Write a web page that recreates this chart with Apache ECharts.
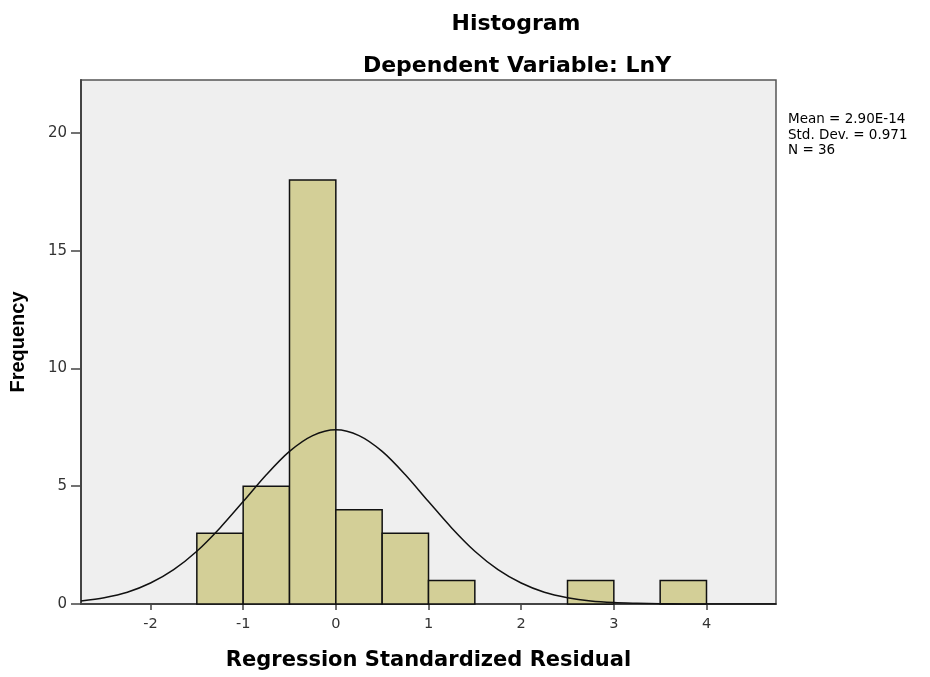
<!DOCTYPE html>
<html>
<head>
<meta charset="utf-8">
<script src="https://cdn.jsdelivr.net/npm/echarts@6/dist/echarts.min.js"></script>
<style>html,body{margin:0;padding:0;background:#fff;}#c{width:930px;height:677px;}</style>
</head>
<body>
<div id="c"></div>
<script>
// Histogram bins (Regression Standardized Residual)
const binStart = [-1.5, -1.0, -0.5, 0.0, 0.5, 1.0, 2.5, 3.5];
const binEnd   = [-1.0, -0.5, 0.0, 0.5, 1.0, 1.5, 3.0, 4.0];
const counts   = [3, 5, 18, 4, 3, 1, 1, 1];

// Normal curve
const curveX = [-2.75,-2.5,-2.25,-2.0,-1.75,-1.5,-1.25,-1.0,-0.75,-0.5,-0.25,0.0,0.25,0.5,0.75,1.0,1.25,1.5,1.75,2.0,2.25,2.5,2.75,3.0,3.25,3.5,3.75,4.0,4.25,4.5,4.75];
const curveY = [0.13,0.27,0.50,0.89,1.46,2.24,3.23,4.35,5.49,6.48,7.15,7.40,7.15,6.48,5.49,4.35,3.23,2.24,1.46,0.89,0.50,0.27,0.13,0.06,0.03,0.01,0.004,0.002,0.0005,0.0001,0.0];

const xTicks = [-2, -1, 0, 1, 2, 3, 4];
const yTicks = [0, 5, 10, 15, 20];

const statsLines = ['Mean = 2.90E-14', 'Std. Dev. = 0.971', 'N = 36'];

const chart = echarts.init(document.getElementById('c'), null, {renderer: 'canvas'});

const barData = counts.map((c, i) => [binStart[i], binEnd[i], c]);
const lineData = curveX.map((x, i) => [x, curveY[i]]);

const wideBold = 'DejaVu Sans, Liberation Sans, sans-serif';
const arial = 'Liberation Sans, Arial, sans-serif';
const wide = 'DejaVu Sans, sans-serif';

const option = {
  animation: false,
  backgroundColor: '#ffffff',
  title: [
    {text: 'Histogram', left: 511, top: 8, textAlign: 'center',
     textStyle: {fontFamily: wideBold, fontWeight: 'bold', fontSize: 22, color: '#000'}},
    {text: 'Dependent Variable: LnY', left: 512, top: 50, textAlign: 'center',
     textStyle: {fontFamily: wideBold, fontWeight: 'bold', fontSize: 22, color: '#000'}},
    {text: statsLines.join('\n'), left: 783, top: 107,
     textStyle: {fontFamily: wide, fontWeight: 'normal', fontSize: 13.5, lineHeight: 15.5, color: '#000'}}
  ],
  grid: {
    left: 81, right: 154, top: 80, bottom: 73,
    outerBoundsMode: 'none', containLabel: false,
    show: true, backgroundColor: '#EFEFEF', borderColor: '#555', borderWidth: 1.5
  },
  xAxis: {
    type: 'value', min: -2.75, max: 4.75,
    name: 'Regression Standardized Residual', nameLocation: 'middle', nameGap: 46,
    nameTextStyle: {fontFamily: wideBold, fontWeight: 'bold', fontSize: 21, color: '#000'},
    axisLine: {show: true, onZero: false, lineStyle: {color: '#444', width: 2}},
    axisTick: {show: true, customValues: xTicks, length: 6, lineStyle: {color: '#444', width: 1.5}},
    axisLabel: {customValues: xTicks, fontFamily: wide, fontSize: 14.5, color: '#333', margin: 13},
    splitLine: {show: false}
  },
  yAxis: {
    type: 'value', min: 0, max: 22.25, interval: 5,
    name: 'Frequency', nameLocation: 'middle', nameGap: 53,
    nameTextStyle: {fontFamily: arial, fontWeight: 'bold', fontSize: 20, color: '#000'},
    axisLine: {show: true, onZero: false, lineStyle: {color: '#444', width: 2}},
    axisTick: {show: true, customValues: yTicks, length: 10, lineStyle: {color: '#444', width: 1.5}},
    axisLabel: {customValues: yTicks, fontFamily: wide, fontSize: 15, color: '#333', margin: 14},
    splitLine: {show: false}
  },
  series: [
    {
      type: 'custom',
      data: barData,
      encode: {x: [0, 1], y: 2},
      renderItem: function (params, api) {
        const p0 = api.coord([api.value(0), 0]);
        const p1 = api.coord([api.value(1), api.value(2)]);
        return {
          type: 'rect',
          shape: {x: p0[0], y: p1[1], width: p1[0] - p0[0], height: p0[1] - p1[1]},
          style: {fill: '#D3CF97', stroke: '#111', lineWidth: 1.5}
        };
      },
      z: 2
    },
    {
      type: 'line',
      data: lineData,
      smooth: 0.3,
      showSymbol: false,
      symbol: 'none',
      lineStyle: {color: '#111', width: 1.5},
      z: 3
    }
  ]
};
chart.setOption(option);
</script>
</body>
</html>
